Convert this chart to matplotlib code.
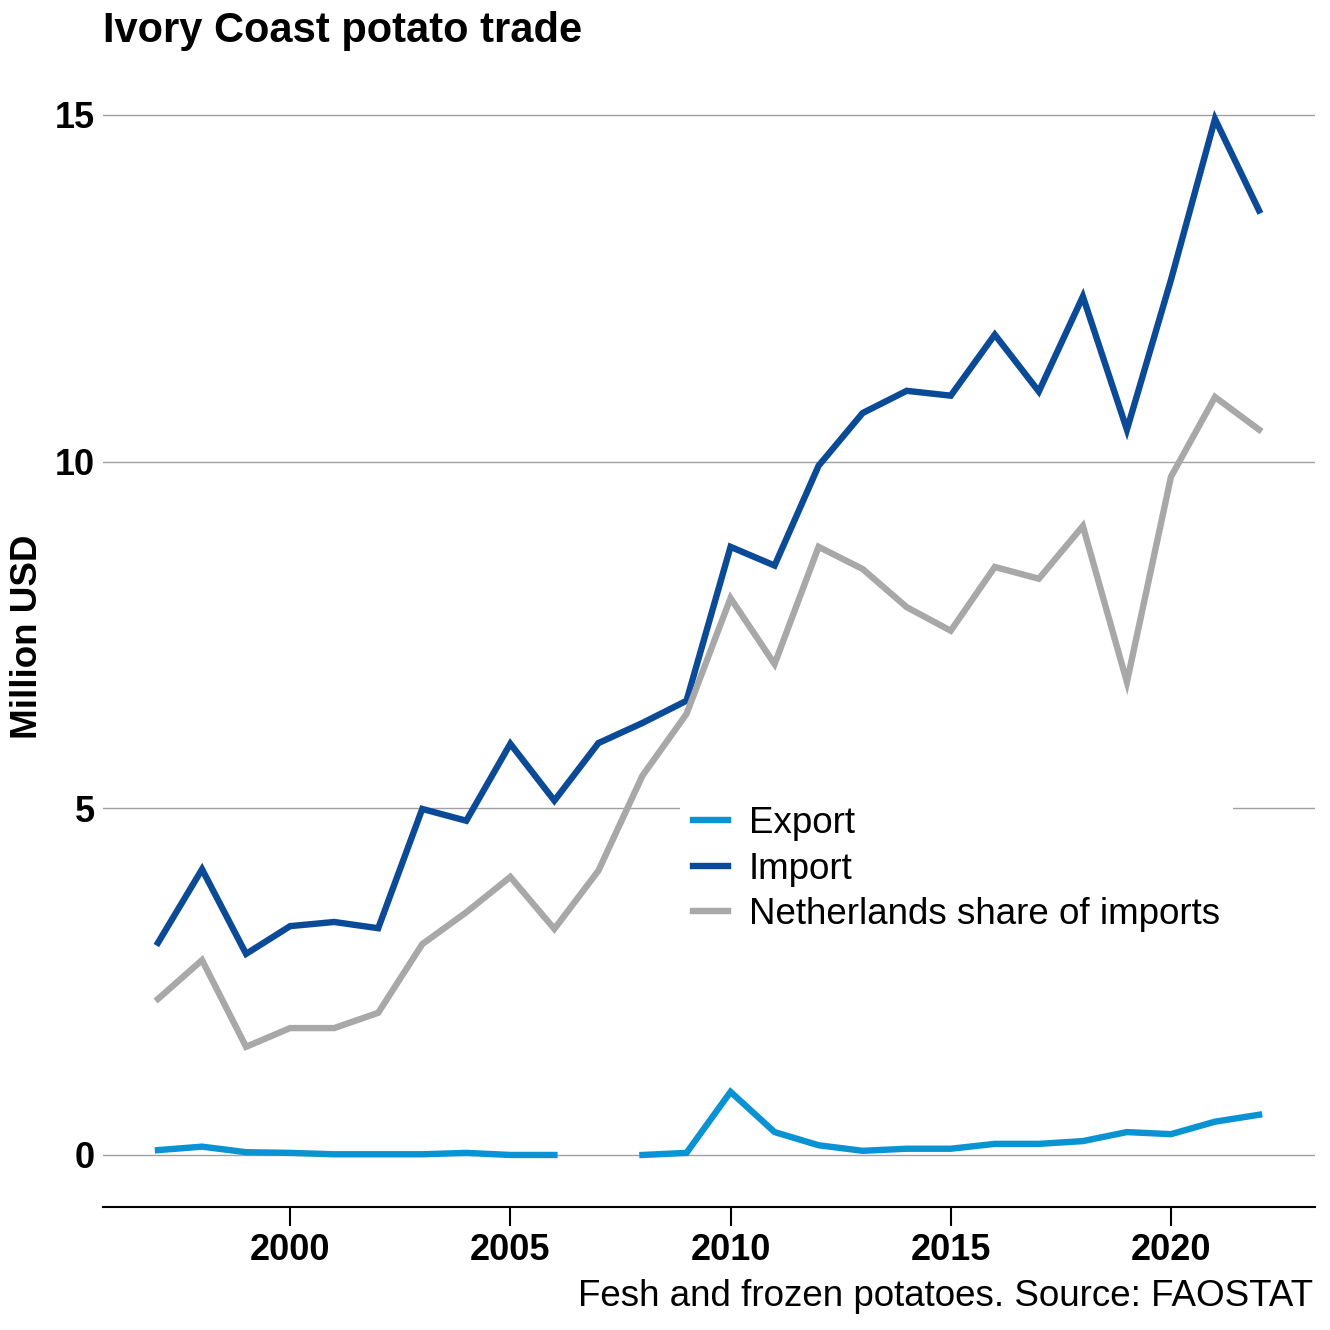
import numpy as np
import matplotlib
matplotlib.use("Agg")
import matplotlib.pyplot as plt

years = np.arange(1997, 2023)

export_musd = [0.07, 0.12, 0.04, 0.03, 0.01, 0.01, 0.01, 0.03, 0.0, 0.0,
               np.nan, 0.0, 0.03, 0.91, 0.33, 0.14, 0.06, 0.09, 0.09, 0.16,
               0.16, 0.20, 0.33, 0.30, 0.48, 0.58]
import_musd = [3.06, 4.12, 2.90, 3.30, 3.36, 3.27, 4.99, 4.82, 5.93, 5.11,
               5.94, 6.23, 6.55, 8.77, 8.50, 9.94, 10.70, 11.02, 10.95, 11.83,
               11.01, 12.38, 10.46, 12.62, 14.94, 13.62]
nl_share_musd = [2.25, 2.81, 1.56, 1.83, 1.83, 2.05, 3.04, 3.50, 4.01, 3.26,
                 4.10, 5.47, 6.36, 8.03, 7.08, 8.77, 8.45, 7.90, 7.56, 8.48,
                 8.31, 9.07, 6.82, 9.78, 10.93, 10.46]

labels = ["Export", "Import", "Netherlands share of imports"]
colors = ["#0a93d3", "#0b4a97", "#a8a8a8"]

plt.rcParams['font.family'] = ['Liberation Sans', 'DejaVu Sans']


def main():
    fig = plt.figure(figsize=(13.3, 13.3), dpi=100)
    ax = fig.add_axes([0.0774, 0.0925, 0.9113, 0.8368])

    for vals, lab, col in zip([export_musd, import_musd, nl_share_musd], labels, colors):
        ax.plot(years, vals, color=col, lw=4.6, label=lab, solid_joinstyle='miter')

    ax.set_xlim(1995.75, 2023.27)
    ax.set_ylim(-0.75, 15.3)
    ax.set_yticks([0, 5, 10, 15])
    ax.set_xticks([2000, 2005, 2010, 2015, 2020])
    ax.grid(axis='y', color='#a0a0a0', lw=1.0)
    ax.set_axisbelow(True)
    for s in ['top', 'right', 'left']:
        ax.spines[s].set_visible(False)
    ax.spines['bottom'].set_linewidth(1.5)
    ax.tick_params(axis='y', length=0, pad=6, labelsize=26)
    ax.tick_params(axis='x', length=14, width=1.5, pad=5, labelsize=26)
    for t in ax.get_xticklabels() + ax.get_yticklabels():
        t.set_fontweight('bold')

    # legend sits on a white box that hides part of the 5 gridline
    leg = ax.legend(loc='upper left', bbox_to_anchor=(0.476, 0.372), borderaxespad=0,
                    fontsize=26.5, handlelength=0.95, handletextpad=0.57, labelspacing=0.29,
                    frameon=True, fancybox=False, framealpha=1, borderpad=0.35)
    leg.get_frame().set_facecolor('white')
    leg.get_frame().set_edgecolor('none')

    fig.text(0.0774, 0.977, "Ivory Coast potato trade", fontsize=30, fontweight='bold',
             ha='left', va='center')
    fig.text(0.021, 0.521, "Million USD", fontsize=26.5, fontweight='bold',
             rotation=90, ha='center', va='center')
    fig.text(0.987, 0.025, "Fesh and frozen potatoes. Source: FAOSTAT", fontsize=26.5,
             ha='right', va='center')

    fig.savefig("out.png", dpi=100)


if __name__ == "__main__":
    main()
